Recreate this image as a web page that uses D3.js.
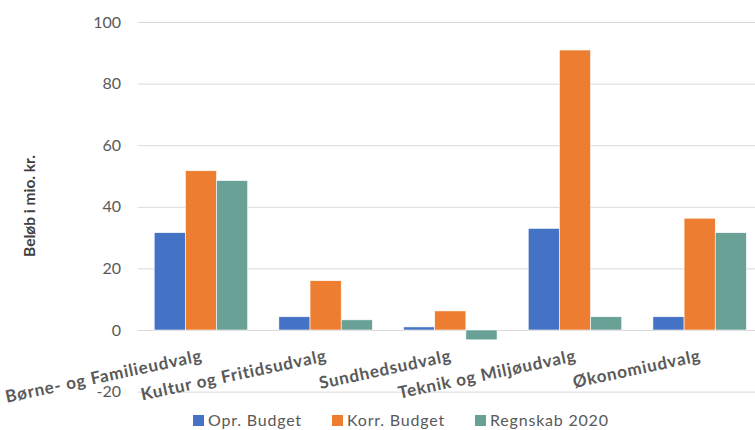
<!DOCTYPE html>
<html>
<head>
<meta charset="utf-8">
<script src="https://cdn.jsdelivr.net/npm/d3@7"></script>
<style>
  html, body { margin: 0; padding: 0; background: #fff; }
  svg { display: block; }
</style>
</head>
<body>
<svg id="chart" width="755" height="430"></svg>
<script>
const categories = ["Børne- og Familieudvalg", "Kultur og Fritidsudvalg", "Sundhedsudvalg", "Teknik og Miljøudvalg", "Økonomiudvalg"];
const seriesNames = ["Opr. Budget", "Korr. Budget", "Regnskab 2020"];
const oprBudget = [31.6, 4.3, 1.0, 33.0, 4.3];
const korrBudget = [51.7, 16.0, 6.2, 90.9, 36.3];
const regnskab2020 = [48.5, 3.3, -3.2, 4.3, 31.6];
const yTicks = [-20, 0, 20, 40, 60, 80, 100];
const colors = ["#4472C4", "#ED7D31", "#69A196"];

const seriesValues = [oprBudget, korrBudget, regnskab2020];
const svg = d3.select("#chart");

const x0 = d3.scaleBand().domain(categories).range([138.6, 762]).padding(0);
const x1 = d3.scaleBand().domain(seriesNames).range([0, x0.bandwidth()]).paddingInner(0).paddingOuter(0.5);
const y = d3.scaleLinear().domain([-20, 100]).range([391.6, 22]);

// gridlines
svg.append("g").selectAll("line").data(yTicks).join("line")
  .attr("x1", 137.7).attr("x2", 762)
  .attr("y1", d => y(d) + 0.5).attr("y2", d => y(d) + 0.5)
  .attr("stroke", "#d9d9d9").attr("stroke-width", 1);

// y tick labels
svg.append("g").selectAll("text").data(yTicks).join("text")
  .attr("x", 121).attr("y", d => y(d))
  .attr("dy", "0.35em")
  .attr("text-anchor", "end")
  .attr("font-family", "Lato, sans-serif")
  .attr("font-size", 16)
  .attr("fill", "#595959")
  .text(d => d);

// bars
const groups = svg.append("g").selectAll("g").data(categories).join("g")
  .attr("transform", d => `translate(${x0(d)},0)`);
groups.selectAll("rect")
  .data((c, i) => seriesNames.map((s, j) => ({ s, v: seriesValues[j][i], j })))
  .join("rect")
  .attr("x", d => x1(d.s))
  .attr("width", x1.bandwidth())
  .attr("y", d => y(Math.max(0, d.v)))
  .attr("height", d => Math.abs(y(d.v) - y(0)))
  .attr("fill", d => colors[d.j])
  .attr("stroke", "#fff").attr("stroke-width", 0.6);

// category labels
svg.append("g").selectAll("text").data(categories).join("text")
  .attr("transform", d => `translate(${x0(d) + x0.bandwidth() / 2 + 2},361) rotate(-12)`)
  .attr("text-anchor", "end")
  .attr("font-family", "Lato, sans-serif")
  .attr("font-weight", "bold")
  .attr("font-size", 17)
  .attr("letter-spacing", 0.8)
  .attr("fill", "#595959")
  .text(d => d);

// y axis title
svg.append("text")
  .attr("transform", "translate(35,206) rotate(-90)")
  .attr("text-anchor", "middle")
  .attr("font-family", "Lato, sans-serif")
  .attr("font-weight", "bold")
  .attr("font-size", 15.5)
  .attr("fill", "#404040")
  .text("Beløb i mio. kr.");

// legend
const legendX = [193, 332, 475];
const legend = svg.append("g").selectAll("g").data(seriesNames).join("g")
  .attr("transform", (d, i) => `translate(${legendX[i]},420)`);
legend.append("rect").attr("x", 0).attr("y", -5).attr("width", 11).attr("height", 11)
  .attr("fill", (d, i) => colors[i]);
legend.append("text").attr("x", 15).attr("dy", "0.38em")
  .attr("font-family", "Lato, sans-serif")
  .attr("font-size", 16)
  .attr("letter-spacing", 0.8)
  .attr("fill", "#595959")
  .text(d => d);
</script>
</body>
</html>
